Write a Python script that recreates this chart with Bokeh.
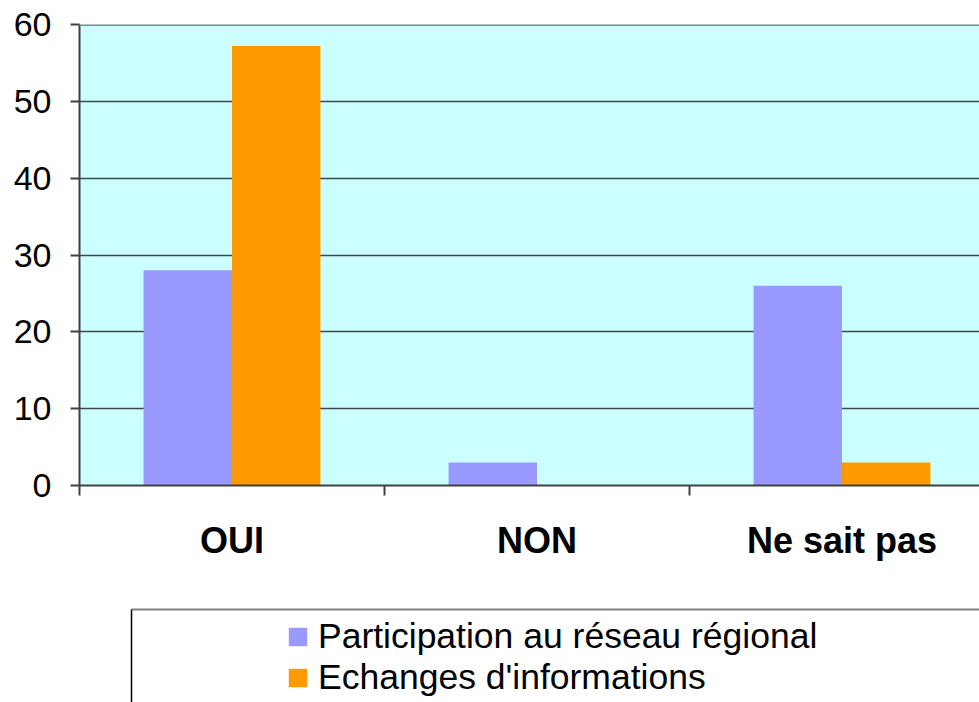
from bokeh.plotting import figure
from bokeh.models import (ColumnDataSource, FixedTicker, Range1d, Legend, LegendItem, Span)
from bokeh.layouts import column
from bokeh.embed import file_html
from bokeh.resources import INLINE

categories = ["OUI", "NON", "Ne sait pas"]
participation = [28, 3, 26]
echanges = [57.2, 0, 3]
series_names = ["Participation au réseau régional", "Echanges d'informations"]
series_colors = ["#9999FF", "#FF9900"]
y_ticks = [0, 10, 20, 30, 40, 50, 60]

W = 979
H1 = 600
H2 = 102
LEFT = 79
bar_w = 0.29
centers = [i + 0.5 for i in range(len(categories))]

src1 = ColumnDataSource(dict(x=[c - bar_w / 2 for c in centers], top=participation))
src2 = ColumnDataSource(dict(x=[c + bar_w / 2 for c in centers], top=echanges))

p = figure(width=W, height=H1, output_backend="svg", toolbar_location=None,
           x_range=Range1d(0, (W - LEFT) / 305), y_range=Range1d(0, 60),
           min_border_left=LEFT, min_border_right=0, min_border_top=24, min_border_bottom=115)
p.background_fill_color = "#CCFFFF"
p.border_fill_color = "white"
p.outline_line_color = None

p.vbar(x="x", top="top", width=bar_w, source=src1, fill_color=series_colors[0], line_color=None)
p.vbar(x="x", top="top", width=bar_w, source=src2, fill_color=series_colors[1], line_color=None)

# y axis
yax = p.yaxis[0]
yax.ticker = FixedTicker(ticks=y_ticks)
yax.axis_line_color = "#404040"
yax.axis_line_width = 2
yax.major_tick_line_color = "#404040"
yax.major_tick_line_width = 2
yax.major_tick_out = 9
yax.major_tick_in = 0
yax.minor_tick_line_color = None
yax.major_label_text_font = "Liberation Sans"
yax.major_label_text_font_size = "34px"
yax.major_label_text_color = "black"
yax.major_label_standoff = 19

# x axis
xax = p.xaxis[0]
xax.ticker = FixedTicker(ticks=centers, minor_ticks=[0, 1, 2, 3])
xax.major_label_overrides = {c: cat for c, cat in zip(centers, categories)}
xax.axis_line_color = "#404040"
xax.axis_line_width = 2
xax.major_tick_line_color = None
xax.major_tick_out = 0
xax.major_tick_in = 0
xax.minor_tick_line_color = "#404040"
xax.minor_tick_line_width = 2
xax.minor_tick_out = 10
xax.minor_tick_in = 0
xax.major_label_text_font = "Liberation Sans"
xax.major_label_text_font_style = "bold"
xax.major_label_text_font_size = "36px"
xax.major_label_text_color = "black"
xax.major_label_standoff = 24

p.xgrid.grid_line_color = None
p.ygrid.ticker = FixedTicker(ticks=y_ticks)
p.ygrid.grid_line_color = "#3a4a4a"
p.ygrid.grid_line_width = 1.5

p.add_layout(Span(location=60, dimension="width", line_color="#888888", line_width=3))

# legend panel (frame aligned with the chart's frame; data units = page pixels)
p2 = figure(width=W, height=H2, output_backend="svg", toolbar_location=None,
            x_range=Range1d(LEFT, W), y_range=Range1d(0, H2),
            min_border_left=LEFT, min_border_right=0, min_border_top=0, min_border_bottom=0)
p2.axis.visible = False
p2.grid.visible = False
p2.outline_line_color = None
p2.background_fill_color = "white"
p2.border_fill_color = "white"

box_left = 131
box_top = H2 - 9
p2.segment(x0=[box_left], y0=[box_top], x1=[W + 50], y1=[box_top], line_color="#808080", line_width=2)
p2.segment(x0=[box_left], y0=[box_top], x1=[box_left], y1=[-50], line_color="black", line_width=1.5)

d1 = p2.vbar(x=[LEFT], top=[0], bottom=[0], width=1, fill_color=series_colors[0], line_color=None)
d2 = p2.vbar(x=[LEFT], top=[0], bottom=[0], width=1, fill_color=series_colors[1], line_color=None)

legend = Legend(items=[LegendItem(label=series_names[0], renderers=[d1]),
                       LegendItem(label=series_names[1], renderers=[d2])],
                location=(286 - LEFT, 4), orientation="vertical",
                padding=0, margin=0, spacing=0,
                glyph_width=23, glyph_height=23, label_height=41, label_standoff=9,
                label_text_font="Liberation Sans", label_text_font_size="35.5px",
                label_text_color="black",
                border_line_color=None, background_fill_alpha=0)
p2.add_layout(legend)

layout = column(p, p2, spacing=0)
open("out.html", "w").write(file_html(layout, INLINE))
